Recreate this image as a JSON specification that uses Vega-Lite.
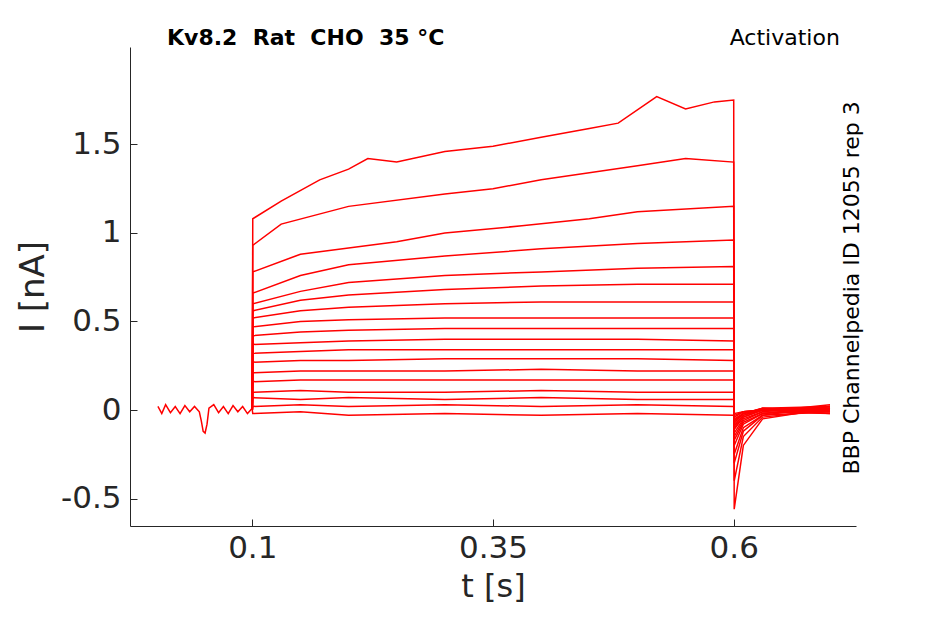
{
  "$schema": "https://vega.github.io/schema/vega-lite/v6.json",
  "width": 726,
  "height": 479,
  "autosize": "none",
  "padding": {"left": 130, "top": 47, "right": 89, "bottom": 98},
  "config": {"view": {"stroke": null}, "font": "DejaVu Sans"},
  "datasets": {
    "pre": [
      {"t":0.002,"i":0.02},{"t":0.006,"i":-0.02},{"t":0.01,"i":0.03},{"t":0.015,"i":-0.015},{"t":0.02,"i":0.02},{"t":0.025,"i":-0.02},{"t":0.03,"i":0.025},{"t":0.035,"i":-0.01},{"t":0.04,"i":0.02},{"t":0.045,"i":-0.01},{"t":0.047,"i":-0.06},{"t":0.049,"i":-0.12},{"t":0.051,"i":-0.13},{"t":0.053,"i":-0.08},{"t":0.055,"i":0.01},{"t":0.06,"i":0.03},{"t":0.065,"i":-0.015},{"t":0.07,"i":0.02},{"t":0.075,"i":-0.02},{"t":0.08,"i":0.025},{"t":0.085,"i":-0.01},{"t":0.09,"i":0.02},{"t":0.095,"i":-0.02},{"t":0.1,"i":0.01}
    ],
    "traces": [
      {"s":1,"t":0.1,"i":0},{"s":1,"t":0.1005,"i":1.08},{"s":1,"t":0.13,"i":1.18},{"s":1,"t":0.17,"i":1.3},{"s":1,"t":0.2,"i":1.36},{"s":1,"t":0.22,"i":1.42},{"s":1,"t":0.25,"i":1.4},{"s":1,"t":0.3,"i":1.46},{"s":1,"t":0.35,"i":1.49},{"s":1,"t":0.4,"i":1.54},{"s":1,"t":0.45,"i":1.59},{"s":1,"t":0.48,"i":1.62},{"s":1,"t":0.52,"i":1.77},{"s":1,"t":0.55,"i":1.7},{"s":1,"t":0.58,"i":1.74},{"s":1,"t":0.6,"i":1.75},{"s":1,"t":0.6005,"i":-0.56},{"s":1,"t":0.61,"i":-0.2},{"s":1,"t":0.63,"i":-0.05},{"s":1,"t":0.7,"i":0.01},
      {"s":2,"t":0.1,"i":0},{"s":2,"t":0.1005,"i":0.93},{"s":2,"t":0.13,"i":1.05},{"s":2,"t":0.2,"i":1.15},{"s":2,"t":0.3,"i":1.22},{"s":2,"t":0.35,"i":1.25},{"s":2,"t":0.4,"i":1.3},{"s":2,"t":0.45,"i":1.34},{"s":2,"t":0.5,"i":1.38},{"s":2,"t":0.55,"i":1.42},{"s":2,"t":0.6,"i":1.4},{"s":2,"t":0.6005,"i":-0.4},{"s":2,"t":0.61,"i":-0.15},{"s":2,"t":0.63,"i":-0.04},{"s":2,"t":0.7,"i":0.0},
      {"s":3,"t":0.1,"i":0},{"s":3,"t":0.1005,"i":0.78},{"s":3,"t":0.15,"i":0.88},{"s":3,"t":0.25,"i":0.95},{"s":3,"t":0.3,"i":1.0},{"s":3,"t":0.38,"i":1.04},{"s":3,"t":0.45,"i":1.08},{"s":3,"t":0.5,"i":1.12},{"s":3,"t":0.6,"i":1.15},{"s":3,"t":0.6005,"i":-0.3},{"s":3,"t":0.61,"i":-0.12},{"s":3,"t":0.63,"i":-0.03},{"s":3,"t":0.7,"i":0.02},
      {"s":4,"t":0.1,"i":0},{"s":4,"t":0.1005,"i":0.66},{"s":4,"t":0.15,"i":0.76},{"s":4,"t":0.2,"i":0.82},{"s":4,"t":0.3,"i":0.87},{"s":4,"t":0.4,"i":0.91},{"s":4,"t":0.5,"i":0.94},{"s":4,"t":0.6,"i":0.96},{"s":4,"t":0.6005,"i":-0.25},{"s":4,"t":0.61,"i":-0.1},{"s":4,"t":0.63,"i":-0.03},{"s":4,"t":0.7,"i":-0.01},
      {"s":5,"t":0.1,"i":0},{"s":5,"t":0.1005,"i":0.6},{"s":5,"t":0.15,"i":0.67},{"s":5,"t":0.2,"i":0.72},{"s":5,"t":0.3,"i":0.76},{"s":5,"t":0.4,"i":0.78},{"s":5,"t":0.5,"i":0.8},{"s":5,"t":0.6,"i":0.81},{"s":5,"t":0.6005,"i":-0.2},{"s":5,"t":0.61,"i":-0.08},{"s":5,"t":0.63,"i":-0.02},{"s":5,"t":0.7,"i":0.02},
      {"s":6,"t":0.1,"i":0},{"s":6,"t":0.1005,"i":0.56},{"s":6,"t":0.15,"i":0.62},{"s":6,"t":0.2,"i":0.65},{"s":6,"t":0.3,"i":0.68},{"s":6,"t":0.4,"i":0.7},{"s":6,"t":0.5,"i":0.71},{"s":6,"t":0.6,"i":0.71},{"s":6,"t":0.6005,"i":-0.17},{"s":6,"t":0.61,"i":-0.07},{"s":6,"t":0.63,"i":-0.02},{"s":6,"t":0.7,"i":0.0},
      {"s":7,"t":0.1,"i":0},{"s":7,"t":0.1005,"i":0.52},{"s":7,"t":0.15,"i":0.56},{"s":7,"t":0.2,"i":0.58},{"s":7,"t":0.3,"i":0.6},{"s":7,"t":0.4,"i":0.61},{"s":7,"t":0.5,"i":0.61},{"s":7,"t":0.6,"i":0.61},{"s":7,"t":0.6005,"i":-0.15},{"s":7,"t":0.61,"i":-0.06},{"s":7,"t":0.63,"i":-0.01},{"s":7,"t":0.7,"i":0.03},
      {"s":8,"t":0.1,"i":0},{"s":8,"t":0.1005,"i":0.47},{"s":8,"t":0.15,"i":0.5},{"s":8,"t":0.2,"i":0.51},{"s":8,"t":0.3,"i":0.52},{"s":8,"t":0.4,"i":0.52},{"s":8,"t":0.5,"i":0.52},{"s":8,"t":0.6,"i":0.52},{"s":8,"t":0.6005,"i":-0.13},{"s":8,"t":0.61,"i":-0.05},{"s":8,"t":0.63,"i":-0.01},{"s":8,"t":0.7,"i":-0.02},
      {"s":9,"t":0.1,"i":0},{"s":9,"t":0.1005,"i":0.42},{"s":9,"t":0.15,"i":0.44},{"s":9,"t":0.2,"i":0.45},{"s":9,"t":0.3,"i":0.46},{"s":9,"t":0.4,"i":0.46},{"s":9,"t":0.5,"i":0.46},{"s":9,"t":0.6,"i":0.46},{"s":9,"t":0.6005,"i":-0.11},{"s":9,"t":0.61,"i":-0.04},{"s":9,"t":0.63,"i":0.0},{"s":9,"t":0.7,"i":0.01},
      {"s":10,"t":0.1,"i":0},{"s":10,"t":0.1005,"i":0.37},{"s":10,"t":0.15,"i":0.38},{"s":10,"t":0.2,"i":0.39},{"s":10,"t":0.3,"i":0.4},{"s":10,"t":0.4,"i":0.4},{"s":10,"t":0.5,"i":0.4},{"s":10,"t":0.6,"i":0.39},{"s":10,"t":0.6005,"i":-0.1},{"s":10,"t":0.61,"i":-0.04},{"s":10,"t":0.63,"i":0.0},{"s":10,"t":0.7,"i":-0.01},
      {"s":11,"t":0.1,"i":0},{"s":11,"t":0.1005,"i":0.32},{"s":11,"t":0.15,"i":0.33},{"s":11,"t":0.2,"i":0.34},{"s":11,"t":0.3,"i":0.34},{"s":11,"t":0.4,"i":0.34},{"s":11,"t":0.5,"i":0.34},{"s":11,"t":0.6,"i":0.34},{"s":11,"t":0.6005,"i":-0.09},{"s":11,"t":0.61,"i":-0.03},{"s":11,"t":0.63,"i":0.01},{"s":11,"t":0.7,"i":0.02},
      {"s":12,"t":0.1,"i":0},{"s":12,"t":0.1005,"i":0.27},{"s":12,"t":0.15,"i":0.28},{"s":12,"t":0.2,"i":0.28},{"s":12,"t":0.3,"i":0.29},{"s":12,"t":0.4,"i":0.29},{"s":12,"t":0.5,"i":0.29},{"s":12,"t":0.6,"i":0.28},{"s":12,"t":0.6005,"i":-0.08},{"s":12,"t":0.61,"i":-0.03},{"s":12,"t":0.63,"i":0.0},{"s":12,"t":0.7,"i":0.0},
      {"s":13,"t":0.1,"i":0},{"s":13,"t":0.1005,"i":0.21},{"s":13,"t":0.15,"i":0.22},{"s":13,"t":0.2,"i":0.22},{"s":13,"t":0.3,"i":0.22},{"s":13,"t":0.4,"i":0.23},{"s":13,"t":0.5,"i":0.22},{"s":13,"t":0.6,"i":0.22},{"s":13,"t":0.6005,"i":-0.07},{"s":13,"t":0.61,"i":-0.02},{"s":13,"t":0.63,"i":0.01},{"s":13,"t":0.7,"i":-0.01},
      {"s":14,"t":0.1,"i":0},{"s":14,"t":0.1005,"i":0.16},{"s":14,"t":0.15,"i":0.17},{"s":14,"t":0.2,"i":0.17},{"s":14,"t":0.3,"i":0.17},{"s":14,"t":0.4,"i":0.17},{"s":14,"t":0.5,"i":0.17},{"s":14,"t":0.6,"i":0.17},{"s":14,"t":0.6005,"i":-0.06},{"s":14,"t":0.61,"i":-0.02},{"s":14,"t":0.63,"i":0.0},{"s":14,"t":0.7,"i":0.02},
      {"s":15,"t":0.1,"i":0},{"s":15,"t":0.1005,"i":0.1},{"s":15,"t":0.15,"i":0.11},{"s":15,"t":0.2,"i":0.1},{"s":15,"t":0.3,"i":0.1},{"s":15,"t":0.4,"i":0.11},{"s":15,"t":0.5,"i":0.1},{"s":15,"t":0.6,"i":0.1},{"s":15,"t":0.6005,"i":-0.05},{"s":15,"t":0.61,"i":-0.02},{"s":15,"t":0.63,"i":0.01},{"s":15,"t":0.7,"i":0.0},
      {"s":16,"t":0.1,"i":0},{"s":16,"t":0.1005,"i":0.07},{"s":16,"t":0.15,"i":0.06},{"s":16,"t":0.2,"i":0.07},{"s":16,"t":0.3,"i":0.06},{"s":16,"t":0.4,"i":0.07},{"s":16,"t":0.5,"i":0.06},{"s":16,"t":0.6,"i":0.06},{"s":16,"t":0.6005,"i":-0.04},{"s":16,"t":0.61,"i":-0.01},{"s":16,"t":0.63,"i":0.0},{"s":16,"t":0.7,"i":0.01},
      {"s":17,"t":0.1,"i":0},{"s":17,"t":0.1005,"i":0.02},{"s":17,"t":0.15,"i":0.03},{"s":17,"t":0.2,"i":0.02},{"s":17,"t":0.3,"i":0.03},{"s":17,"t":0.4,"i":0.02},{"s":17,"t":0.5,"i":0.03},{"s":17,"t":0.6,"i":0.02},{"s":17,"t":0.6005,"i":-0.03},{"s":17,"t":0.61,"i":-0.01},{"s":17,"t":0.63,"i":0.0},{"s":17,"t":0.7,"i":-0.02},
      {"s":18,"t":0.1,"i":0},{"s":18,"t":0.1005,"i":-0.02},{"s":18,"t":0.15,"i":-0.01},{"s":18,"t":0.2,"i":-0.03},{"s":18,"t":0.3,"i":-0.02},{"s":18,"t":0.4,"i":-0.03},{"s":18,"t":0.5,"i":-0.02},{"s":18,"t":0.6,"i":-0.03},{"s":18,"t":0.6005,"i":-0.02},{"s":18,"t":0.61,"i":-0.01},{"s":18,"t":0.63,"i":0.0},{"s":18,"t":0.7,"i":0.0}
    ],
    "labels": [
      {"t":0.0115,"i":2.1,"txt":"Kv8.2\u00a0\u00a0Rat\u00a0\u00a0CHO\u00a0\u00a035\u00a0°C","kind":"title"},
      {"t":0.653,"i":2.1,"txt":"Activation","kind":"right"}
    ]
  },
  "encoding": {
    "x": {"field": "t", "type": "quantitative",
      "scale": {"domain": [-0.027, 0.727], "nice": false, "zero": false},
      "axis": {"title": "t [s]", "values": [0.1, 0.35, 0.6], "labelExpr": "toString(datum.value)", "grid": false,
        "labelFontSize": 31, "titleFontSize": 32, "titleFontWeight": "normal", "labelColor": "#262626", "titleColor": "#262626",
        "domainColor": "#262626", "tickColor": "#262626", "tickSize": -7, "labelPadding": 14, "titlePadding": 8}},
    "y": {"field": "i", "type": "quantitative",
      "scale": {"domain": [-0.655, 2.05], "nice": false, "zero": false},
      "axis": {"title": "I [nA]", "values": [-0.5, 0, 0.5, 1, 1.5], "labelExpr": "toString(datum.value)", "grid": false,
        "labelFontSize": 31, "titleFontSize": 34, "titleFontWeight": "normal", "labelColor": "#262626", "titleColor": "#262626",
        "domainColor": "#262626", "tickColor": "#262626", "tickSize": -7, "labelPadding": 16, "titlePadding": 10}}
  },
  "layer": [
    {"data": {"name": "pre"}, "mark": {"type": "line", "color": "red", "strokeWidth": 1.5}},
    {"data": {"name": "traces"}, "mark": {"type": "line", "color": "red", "strokeWidth": 1.5},
      "encoding": {"detail": {"field": "s", "type": "nominal"}}},
    {"data": {"name": "labels"}, "transform": [{"filter": "datum.kind == 'title'"}],
      "mark": {"type": "text", "align": "left", "baseline": "middle", "fontSize": 22, "fontWeight": "bold", "color": "black", "clip": false},
      "encoding": {"text": {"field": "txt"}}},
    {"data": {"name": "labels"}, "transform": [{"filter": "datum.kind == 'right'"}],
      "mark": {"type": "text", "align": "center", "baseline": "middle", "fontSize": 22, "color": "black", "clip": false},
      "encoding": {"text": {"field": "txt"}}},
    {"data": {"values": [{"t": 0.723, "i": 0.69, "txt": "BBP Channelpedia ID 12055 rep 3"}]},
      "mark": {"type": "text", "angle": 270, "align": "center", "baseline": "middle", "fontSize": 22, "color": "black", "clip": false},
      "encoding": {"text": {"field": "txt"}}}
  ]
}
